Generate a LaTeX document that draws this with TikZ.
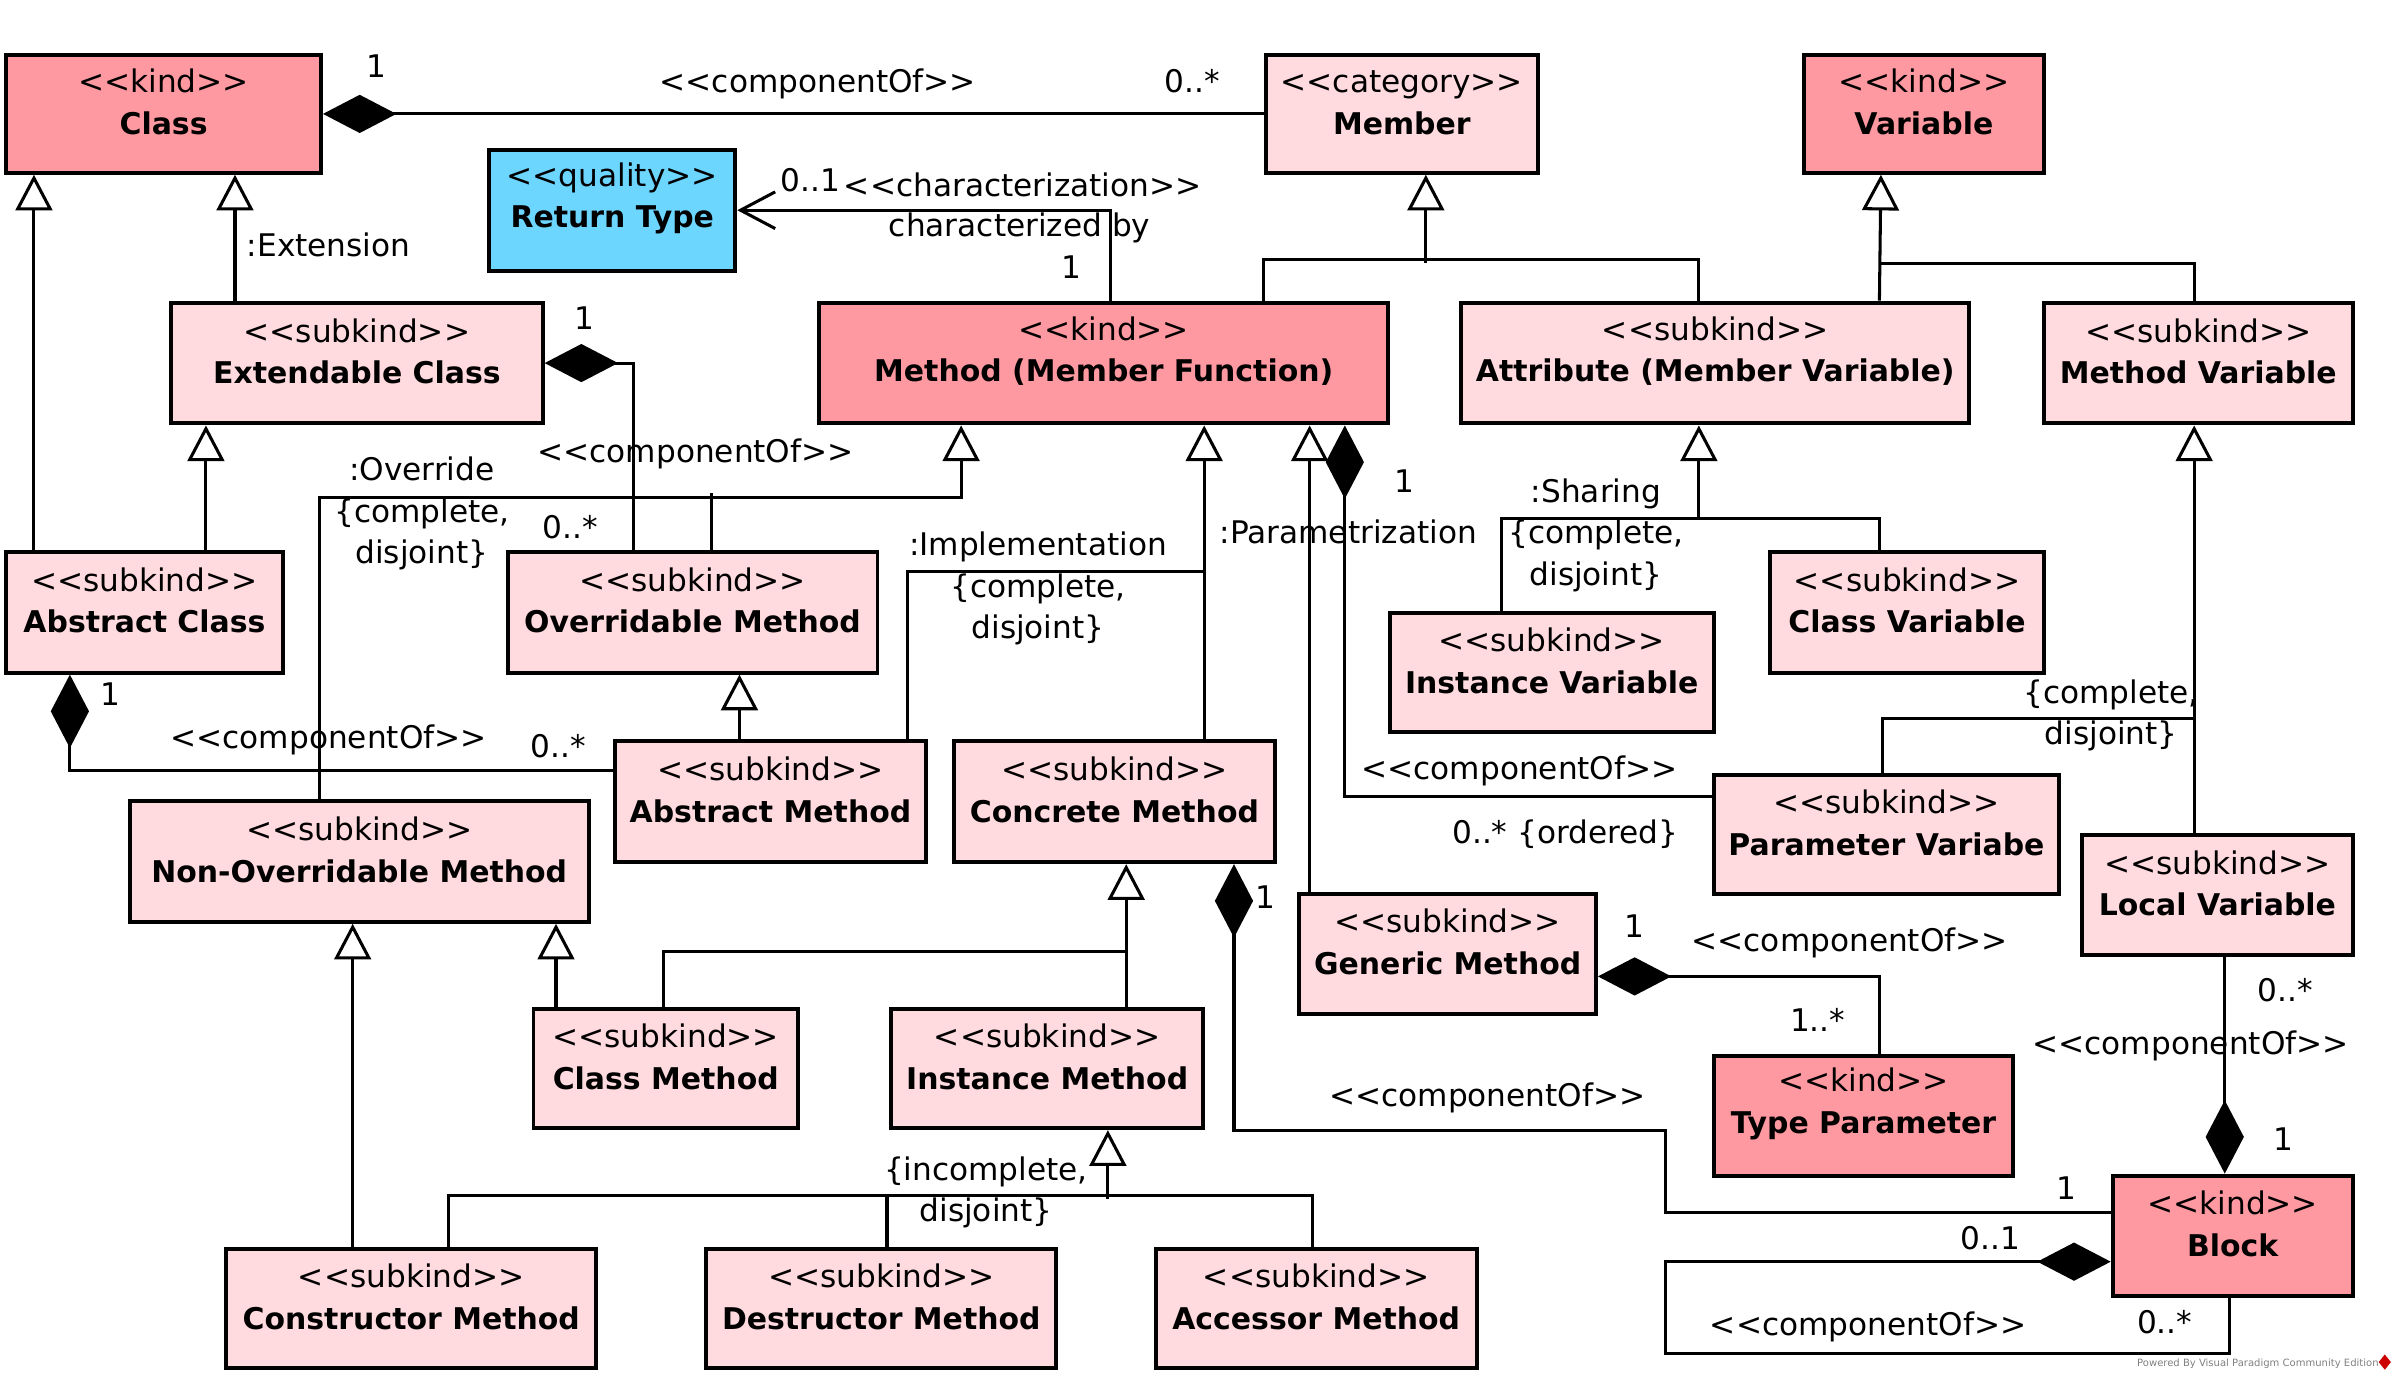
\documentclass[tikz,border=0pt]{standalone}
\usepackage{fontspec}
\setmainfont{DejaVu Sans}
\usetikzlibrary{arrows.meta,calc,fit}

\definecolor{kindfill}{RGB}{255,153,161}
\definecolor{subfill}{RGB}{255,218,222}
\definecolor{qualfill}{RGB}{108,214,255}
\newcommand{\stype}[1]{<{}<#1>{}>}
\newcommand{\cname}[1]{{\fontsize{8.35}{11.6}\selectfont\bfseries #1}}

\begin{document}
\begin{tikzpicture}[x=0.015cm, y=-0.015cm,
font=\fontsize{8.7}{11.6}\selectfont,
box/.style={draw=black, line width=1.1pt, inner sep=0pt, align=center, text height=0.3375cm, text depth=0.8325cm},
kind/.style={box, fill=kindfill},
subkind/.style={box, fill=subfill},
quality/.style={box, fill=qualfill},
lbl/.style={inner sep=0pt, align=center},
wire/.style={line width=0.85pt},
gen/.style={wire, -{Triangle[open, fill=white, length=0.35cm, width=0.36cm]}},
comp/.style={wire, {Diamond[length=0.72cm, width=0.375cm]}-},
assoc/.style={wire, -{Straight Barb[length=0.34cm, width=0.36cm]}},
]
\useasboundingbox (0,0) rectangle (1568,903);

% classes
\node[kind, fit={(4,36) (210,113)}] (cls) {\stype{kind}\\\cname{Class}};
\node[subkind, fit={(828,36) (1006,113)}] (member) {\stype{category}\\\cname{Member}};
\node[kind, fit={(1180,36) (1337,113)}] (var) {\stype{kind}\\\cname{Variable}};
\node[quality, fit={(320,98) (481,177)}] (rtype) {\stype{quality}\\\cname{Return Type}};
\node[subkind, fit={(112,198) (355,277)}] (extcls) {\stype{subkind}\\\cname{Extendable Class}};
\node[kind, fit={(536,198) (908,277)}] (mfun) {\stype{kind}\\\cname{Method (Member Function)}};
\node[subkind, fit={(956,198) (1288,277)}] (attr) {\stype{subkind}\\\cname{Attribute (Member Variable)}};
\node[subkind, fit={(1337,198) (1539,277)}] (mvar) {\stype{subkind}\\\cname{Method Variable}};
\node[subkind, fit={(4,361) (185,440)}] (abscls) {\stype{subkind}\\\cname{Abstract Class}};
\node[subkind, fit={(332,361) (574,440)}] (ovm) {\stype{subkind}\\\cname{Overridable Method}};
\node[subkind, fit={(909,401) (1121,479)}] (instvar) {\stype{subkind}\\\cname{Instance Variable}};
\node[subkind, fit={(1158,361) (1337,440)}] (clsvar) {\stype{subkind}\\\cname{Class Variable}};
\node[subkind, fit={(402,485) (606,564)}] (absm) {\stype{subkind}\\\cname{Abstract Method}};
\node[subkind, fit={(624,485) (834,564)}] (concm) {\stype{subkind}\\\cname{Concrete Method}};
\node[subkind, fit={(85,524) (385,603)}] (novm) {\stype{subkind}\\\cname{Non-Overridable Method}};
\node[subkind, fit={(1121,507) (1347,585)}] (parvar) {\stype{subkind}\\\cname{Parameter Variabe}};
\node[subkind, fit={(1362,546) (1539,625)}] (locvar) {\stype{subkind}\\\cname{Local Variable}};
\node[subkind, fit={(850,585) (1044,663)}] (genm) {\stype{subkind}\\\cname{Generic Method}};
\node[subkind, fit={(349,660) (522,738)}] (clsm) {\stype{subkind}\\\cname{Class Method}};
\node[subkind, fit={(583,660) (787,738)}] (instm) {\stype{subkind}\\\cname{Instance Method}};
\node[kind, fit={(1121,691) (1317,769)}] (typpar) {\stype{kind}\\\cname{Type Parameter}};
\node[kind, fit={(1382,769) (1539,848)}] (block) {\stype{kind}\\\cname{Block}};
\node[subkind, fit={(148,817) (390,895)}] (ctorm) {\stype{subkind}\\\cname{Constructor Method}};
\node[subkind, fit={(462,817) (691,895)}] (dtorm) {\stype{subkind}\\\cname{Destructor Method}};
\node[subkind, fit={(756,817) (966,895)}] (accm) {\stype{subkind}\\\cname{Accessor Method}};

% Class -- Member
\draw[comp] (cls.east) -- (member.west);
\node[lbl] (c1a) at (246,43) {1};
\node[lbl] (c1b) at (535,55) {\stype{componentOf}};
\node[lbl] (c1c) at (780,53) {0..*};

% extension
\draw[gen] ($(extcls.north west)+(43,0)$) -- ($(cls.south west)+(151,0)$);
\node[lbl] (ext) at (215,160) {:Extension};
\draw[gen] ($(abscls.north west)+(19.5,0)$) -- ($(cls.south west)+(19.5,0)$);
\draw[gen] ($(abscls.north west)+(132,0)$) -- ($(extcls.south west)+(24,0)$);

% return type
\draw[assoc] ($(mfun.north west)+(192,0)$) |- (rtype.east);
\node[lbl] (ch1) at (530,118) {0..1};
\node[lbl] (ch2) at (669,121) {\stype{characterization}};
\node[lbl] (ch3) at (667,149) {characterized by};
\node[lbl] (ch4) at (701,175) {1};

% Extendable Class -- Overridable Method
\draw[comp] (extcls.east) -| ($(ovm.north west)+(84,0)$);
\node[lbl] (c2a) at (382,208) {1};
\node[lbl] (c2b) at (455,297) {\stype{componentOf}};
\node[lbl] (c2c) at (373,345) {0..*};

% override
\draw[gen] ($(novm.north west)+(125,0)$) |- ($(mfun.south west)+(94,47)$) -- ($(mfun.south west)+(94,0)$);
\draw[wire] ($(ovm.north west)+(135,0)$) -- ($(ovm.north west)+(135,-37)$);
\node[lbl] (ovr) at (276,336) {:Override\\\{complete,\\disjoint\}};

% implementation
\draw[gen] ($(concm.north west)+(165,0)$) -- ($(mfun.south west)+(253,0)$);
\draw[wire] ($(absm.north west)+(193,0)$) |- ($(concm.north west)+(165,-110)$);
\node[lbl] (impl) at (679,385) {:Implementation\\\{complete,\\disjoint\}};

% parametrization
\draw[gen] ($(genm.north west)+(8,0)$) -- ($(mfun.south west)+(322,0)$);
\node[lbl] (par) at (882,348) {:Parametrization};

% Method -- Parameter Variabe
\draw[comp] ($(mfun.south west)+(345,0)$) |- ($(parvar.north west)+(0,15)$);
\node[lbl] (c3a) at (919,315) {1};
\node[lbl] (c3b) at (994,504) {\stype{componentOf}};
\node[lbl] (c3c) at (1024,546) {0..* \{ordered\}};

% Member
\draw[gen] ($(member.south west)+(106,58)$) -- ($(member.south west)+(106,0)$);
\draw[wire] ($(mfun.north west)+(292,0)$) |- ($(attr.north west)+(156.5,-27)$) -- ($(attr.north west)+(156.5,0)$);

% Variable
\draw[gen] ($(attr.north west)+(274.7,0)$) -- ($(var.south west)+(51.7,0)$);
\draw[wire] ($(var.south west)+(51.7,58)$) -| ($(mvar.north west)+(99.6,0)$);

% sharing
\draw[gen] ($(instvar.north west)+(74.7,0)$) |- ($(attr.south west)+(156.6,61)$) -- ($(attr.south west)+(156.6,0)$);
\draw[wire] ($(clsvar.north west)+(72.7,0)$) |- ($(attr.south west)+(156.6,61)$);
\node[lbl] (shr) at (1044,350) {:Sharing\\\{complete,\\disjoint\}};

% method variable
\draw[gen] ($(locvar.north west)+(74.6,0)$) -- ($(mvar.south west)+(99.6,0)$);
\draw[wire] ($(parvar.north west)+(112,0)$) |- ($(locvar.north west)+(74.6,-75)$);
\node[lbl] (mvs) at (1381,468) {\{complete,\\disjoint\}};

% Abstract Class -- Abstract Method
\draw[comp] ($(abscls.south west)+(43,0)$) |- ($(absm.north west)+(0,20)$);
\node[lbl] (c4a) at (72,454) {1};
\node[lbl] (c4b) at (215,484) {\stype{componentOf}};
\node[lbl] (c4c) at (365,488) {0..*};

\draw[gen] ($(absm.north west)+(83,0)$) -- ($(ovm.south west)+(153,0)$);

% non-overridable
\draw[gen] ($(ctorm.north west)+(84,0)$) -- ($(novm.south west)+(147,0)$);
\draw[gen] ($(clsm.north west)+(16,0)$) -- ($(novm.south west)+(280,0)$);

% concrete
\draw[gen] ($(instm.north west)+(155,0)$) -- ($(concm.south west)+(114,0)$);
\draw[wire] ($(clsm.north west)+(86.5,0)$) |- ($(instm.north west)+(155,-36)$);

% instance method
\draw[gen] ($(instm.south west)+(143,45)$) -- ($(instm.south west)+(143,0)$);
\draw[wire] ($(ctorm.north west)+(146.6,0)$) |- ($(accm.north west)+(104,-34)$) -- ($(accm.north west)+(104,0)$);
\draw[wire] ($(dtorm.north west)+(119.5,0)$) -- ($(dtorm.north west)+(119.5,-34)$);
\node[lbl] (ims) at (645,780) {\{incomplete,\\disjoint\}};

% Concrete Method -- Block
\draw[comp] ($(concm.south west)+(184.5,0)$) |- ++(282.5,174) |- ($(block.north west)+(0,25.6)$);
\node[lbl] (c5a) at (828,587) {1};
\node[lbl] (c5b) at (973,718) {\stype{componentOf}};
\node[lbl] (c5c) at (1352,777) {1};

% Generic Method -- Type Parameter
\draw[comp] ($(genm.north east)+(0,55)$) -| ($(typpar.north west)+(109.5,0)$);
\node[lbl] (c6a) at (1069,606) {1};
\node[lbl] (c6b) at (1210,617) {\stype{componentOf}};
\node[lbl] (c6c) at (1189,667) {1..*};

% Local Variable -- Block
\draw[comp] ($(block.north west)+(74.6,0)$) -- ($(locvar.south west)+(94.6,0)$);
\node[lbl] (c7a) at (1495,648) {0..*};
\node[lbl] (c7b) at (1433,684) {\stype{componentOf}};
\node[lbl] (c7c) at (1494,745) {1};

% Block -- Block
\draw[comp] ($(block.north west)+(0,57.6)$) -| ++(-291,60) -| ($(block.south west)+(78,0)$);
\node[lbl] (c8a) at (1302,810) {0..1};
\node[lbl] (c8b) at (1222,868) {\stype{componentOf}};
\node[lbl] (c8c) at (1416,865) {0..*};

% watermark
\node[lbl, font=\fontsize{2.8}{3}\selectfont, text=gray] (vp) at (1477,892) {Powered By Visual Paradigm Community Edition};
\fill[red!80!black] (1560,886) -- (1564,891) -- (1560,896) -- (1556,891) -- cycle;
\end{tikzpicture}
\end{document}
